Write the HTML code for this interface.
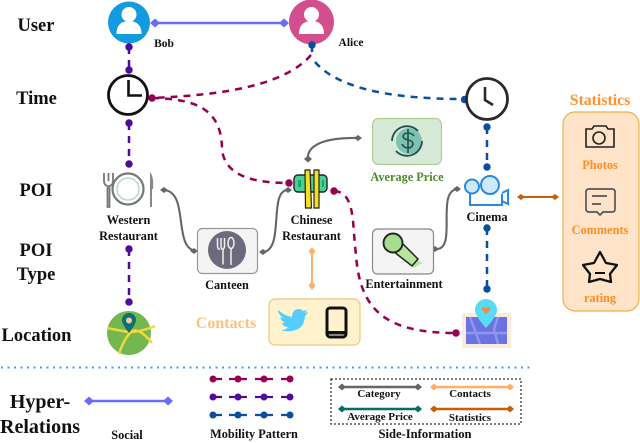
<!DOCTYPE html>
<html><head><meta charset="utf-8"><style>
html,body{margin:0;padding:0;background:#fff;width:640px;height:443px;overflow:hidden}
svg{display:block}
text{font-family:"Liberation Serif",serif;font-weight:bold;text-anchor:middle;fill:#111}
.d{fill:none;stroke-width:2.500;stroke-dasharray:7 6}
.g{fill:none;stroke:#666;stroke-width:2.100}
.s{font-size:12.300px}
</style></head><body>
<svg width="640" height="443" viewBox="0 0 640 443" xmlns="http://www.w3.org/2000/svg">
<defs>
<symbol id="user" viewBox="0 0 44 44" overflow="visible"><circle cx="22" cy="14.500" r="7.500" fill="#fff"/><path d="M9.500 34c0-9 5-13 12.500-13s12.500 4 12.500 13z" fill="#fff"/></symbol>
</defs>
<!-- row labels -->
<text x="36" y="31" style="font-size:18.500px">User</text>
<text x="36.500" y="104" style="font-size:18.500px">Time</text>
<text x="36" y="196" style="font-size:18.500px">POI</text>
<text x="36" y="256" style="font-size:18.500px">POI</text>
<text x="36" y="280" style="font-size:18.500px">Type</text>
<text x="36.500" y="341" style="font-size:18.500px">Location</text>
<text x="40" y="408" style="font-size:20px">Hyper-</text>
<text x="40" y="433" style="font-size:20px">Relations</text>
<!-- Social -->
<line x1="155" y1="23" x2="284" y2="23" stroke="#6a6cff" stroke-width="2.500"/>
<path d="M150 23l5-4.500 5 4.500-5 4.500zM279 23l5-4.500 5 4.500-5 4.500z" fill="#6a6cff"/>
<circle cx="129" cy="22.500" r="21" fill="#129bdf"/>
<use href="#user" x="107" y="0" width="44" height="44"/>
<circle cx="311.500" cy="22" r="22.500" fill="#d44d8c"/>
<use href="#user" x="289.500" y="0" width="44" height="44"/>
<text x="164" y="47" class="s" style="font-size:11.500px">Bob</text>
<text x="351" y="46" class="s" style="font-size:11.500px">Alice</text>
<!-- purple -->
<path class="d" d="M129 47V70" stroke="#4f0c9c"/>
<path class="d" d="M129 123V164" stroke="#4f0c9c"/>
<path class="d" d="M129 249V302" stroke="#4f0c9c"/>
<g fill="#4f0c9c"><circle cx="129" cy="47" r="3.700"/><circle cx="129" cy="70" r="3.700"/><circle cx="129" cy="123" r="3.700"/><circle cx="129" cy="164" r="3.700"/><circle cx="129" cy="249" r="3.700"/><circle cx="129" cy="302" r="3.700"/></g>
<!-- clock 1 -->
<circle cx="128" cy="95" r="19.500" fill="#fff" stroke="#111" stroke-width="2.800"/>
<path d="M128.500 80V95.500H142" fill="none" stroke="#111" stroke-width="2.600"/>
<!-- crimson -->
<path class="d" stroke="#97004f" d="M311 55C285 85 225 95 152 98"/>
<path class="d" stroke="#97004f" d="M152 98C195 99 222 108 222 150C225 172 245 183 289 183"/>
<path class="d" stroke="#97004f" d="M334 191C356 192 352 225 356 255C360 310 385 333 456 333"/>
<g fill="#97004f"><circle cx="152" cy="98" r="3.700"/><circle cx="289" cy="183" r="3.700"/><circle cx="334" cy="191" r="3.700"/><circle cx="456" cy="333" r="3.700"/></g>
<!-- blue -->
<path class="d" stroke="#0a4f9e" d="M312 45V52"/>
<path class="d" stroke="#0a4f9e" d="M315 62C335 85 380 99 464 99"/>
<path class="d" stroke="#0a4f9e" d="M487 127V167"/>
<path class="d" stroke="#0a4f9e" d="M487 228V289"/>
<g fill="#0a4f9e"><circle cx="312" cy="45" r="3.700"/><circle cx="464.500" cy="99.500" r="3.700"/><circle cx="487" cy="127" r="3.700"/><circle cx="487" cy="167" r="3.700"/><circle cx="487" cy="228" r="3.700"/><circle cx="487" cy="289" r="3.700"/></g>
<!-- clock 2 -->
<circle cx="487" cy="99" r="20.500" fill="#fff" stroke="#2a2a2a" stroke-width="2.800"/>
<path d="M485 87V100L493 105" fill="none" stroke="#2a2a2a" stroke-width="2.600"/>
<!-- gray connectors -->
<path class="g" d="M164 190C190 192 172 250 197 251"/>
<path class="g" d="M263 252C285 250 268 190 288 190"/>
<path class="g" d="M308 160C306 145 325 137 360 138"/>
<path class="g" d="M436 249C458 250 435 190 458 189"/>
<g fill="#666"><path d="M160 190l4-3 4 3-4 3zM190 251l4-3 4 3-4 3zM259 252l4-3 4 3-4 3zM284 190l4-3 4 3-4 3zM304 159l4-3.500 4 3.500-4 3.500zM354 138l4-3 4 3-4 3zM431 249l4-3 4 3-4 3zM453 189l4-3 4 3-4 3z"/></g>
<!-- Western -->
<circle cx="128" cy="189" r="15.500" fill="#fff" stroke="#777" stroke-width="2.200"/>
<circle cx="128" cy="189" r="11" fill="none" stroke="#b5d8cc" stroke-width="1.500"/>
<path d="M104 173v8q0 4 3.500 5v21h2v-21q3.500-1 3.500-5v-8M108.500 173v8" fill="none" stroke="#777" stroke-width="1.800"/>
<path d="M150 172q4 5 3 17h-1v18h-2z" fill="#888"/>
<text x="128.500" y="224" class="s">Western</text>
<text x="128.500" y="240" class="s">Restaurant</text>
<!-- Canteen -->
<rect x="197.500" y="228.500" width="60" height="45" rx="5" fill="#f4f4f4" stroke="#999" stroke-width="1.200"/>
<circle cx="227" cy="250" r="19" fill="#6d6a7d"/>
<path d="M221 238v8q0 3 2 3.500v15M217.500 238v8q0 3 2.500 3.500M224.500 238v8q0 3-2.500 3.500" fill="none" stroke="#f0f0f0" stroke-width="1.500"/>
<ellipse cx="231" cy="243" rx="3" ry="5.500" fill="none" stroke="#f0f0f0" stroke-width="1.500"/>
<path d="M231 249v16" stroke="#f0f0f0" stroke-width="1.500"/>
<text x="227" y="289" class="s">Canteen</text>
<!-- Chopsticks -->
<rect x="294" y="175" width="33" height="17" rx="4" fill="#4fce9b" stroke="#222" stroke-width="1.400"/>
<rect x="298" y="180" width="3" height="7" fill="#1a6"/>
<rect x="322" y="180" width="2" height="7" fill="#1a6"/>
<path d="M305 170h5l1.500 38h-6zM314 170h5l0 38h-5z" fill="#f4e01c" stroke="#222" stroke-width="1.200"/>
<text x="311.500" y="224" class="s">Chinese</text>
<text x="311.500" y="240" class="s">Restaurant</text>
<!-- Orange contact -->
<path d="M312 252V285" stroke="#ffb06a" stroke-width="2"/>
<path d="M312 247l3.500 4.500-3.500 4.500-3.500-4.500zM312 281l3.500 4.500-3.500 4.500-3.500-4.500z" fill="#ffb06a"/>
<text x="226" y="328" style="font-size:16px;fill:#ffc07a">Contacts</text>
<rect x="269" y="299" width="91" height="46" rx="6" fill="#fff2cd" stroke="#e9c878" stroke-width="1.200"/>
<path d="M278 310q7 6 14 7q0-7 6-8q4 0 5 2l4-1-2 3 3-1q-2 3-3 4q-1 14-14 15q-5 1-10-1q5 0 7-3q-5 0-6-4q1 0 3 0q-4-2-5-6q1 1 3 1q-5-4-5-8z" fill="#56ccff"/>
<rect x="327" y="308" width="19" height="29" rx="3" fill="#fff2cd" stroke="#111" stroke-width="3"/>
<rect x="326" y="331" width="21" height="3.500" fill="#111"/>
<!-- Location -->
<circle cx="129" cy="333" r="22" fill="#73b84e"/>
<path d="M107 328q15 3 22 4q12 0 26-6M119 354q5-16 13-23q8-3 20 12" fill="none" stroke="#f4d640" stroke-width="2.500"/>
<path d="M129 333q-7-9-7-13a7 7 0 0 1 14 0q0 4-7 13z" fill="#0c6f73"/>
<circle cx="129" cy="320.500" r="3" fill="#f6c9a4"/>
<!-- Average Price -->
<rect x="372.500" y="118.500" width="69" height="46" rx="6" fill="#d6e8d6" stroke="#a9cf95" stroke-width="1.200"/>
<circle cx="409" cy="141" r="13" fill="#7fc2b4"/>
<path d="M392 141a15 15 0 0 1 26-10M422 141a15 15 0 0 1-26 10" fill="none" stroke="#1f4f4b" stroke-width="1.800"/>
<path d="M414 136q-2-3-6-3t-5 3q0 3 5 4t5 4q-1 4-5 4t-6-4M408 129v24" fill="none" stroke="#1f4f4b" stroke-width="1.600"/>
<text x="407" y="181" class="s" style="fill:#4f8a2c">Average Price</text>
<!-- Entertainment -->
<rect x="372.500" y="229" width="61" height="45" rx="5" fill="#f4f4f4" stroke="#888" stroke-width="1.200"/>
<path d="M408 262l6-4 8 5-8 5z" fill="#b6e59b"/>
<path d="M397 238l-8 10 23 18 6-7z" fill="#b6e59b" stroke="#222" stroke-width="1.500"/>
<circle cx="393" cy="243" r="9.500" fill="#a6dc8e" stroke="#222" stroke-width="1.900"/>
<text x="404" y="288" class="s">Entertainment</text>
<!-- Cinema -->
<path d="M470 194v11h32v-11M502 193l6-3v14l-6-3" fill="#fff" stroke="#2589e6" stroke-width="2"/>
<circle cx="472" cy="186.500" r="7" fill="#cfe9fb" stroke="#2589e6" stroke-width="2"/>
<circle cx="490" cy="185" r="9" fill="#cfe9fb" stroke="#2589e6" stroke-width="2"/>
<text x="487" y="221" class="s">Cinema</text>
<!-- POI location map -->
<rect x="462" y="313" width="49" height="35" fill="#fcebdd"/>
<rect x="466" y="317" width="41" height="27" fill="#6b73e0"/>
<path d="M470 317l10 27M466 333h41M498 317l-4 12 4 15" fill="none" stroke="#8e96ee" stroke-width="2.500"/>
<path d="M486 328q-11-12-11-18a11 11 0 0 1 22 0q0 6-11 18z" fill="#57dcf2"/>
<path d="M486 314l-4-4q-1-3 2-3l2 1 2-1q3 0 2 3z" fill="#f08a55"/>
<!-- Statistics -->
<text x="600" y="105" style="font-size:15.800px;fill:#ff9233">Statistics</text>
<rect x="563" y="112" width="76" height="199" rx="12" fill="#ffe4c9" stroke="#e8b24c" stroke-width="1.200"/>
<path d="M520 197H556" stroke="#c85f08" stroke-width="2"/>
<path d="M517 197l4-3 4 3-4 3zM551 197l4-3 4 3-4 3z" fill="#c85f08"/>
<path d="M586 129h6l2-3h12l2 3h6v18h-28z" fill="none" stroke="#222" stroke-width="1.600"/>
<circle cx="599" cy="138" r="6" fill="none" stroke="#222" stroke-width="1.600"/>
<text x="600" y="169" class="s" style="fill:#ff8c22">Photos</text>
<path d="M589 189h23q3 0 3 3v17q0 3-3 3h-9l-3 3-3-3h-8q-3 0-3-3v-17q0-3 3-3z" fill="none" stroke="#555" stroke-width="1.700"/>
<path d="M592 196h15M592 204h9" stroke="#555" stroke-width="1.700"/>
<text x="600" y="234" class="s" style="fill:#ff8c22">Comments</text>
<path d="M600 252l6 11 11 2-7 9 1 8-11-3-11 3 1-8-7-9 11-2z" fill="none" stroke="#111" stroke-width="2.300" stroke-linejoin="round"/>
<path d="M595 273h10" stroke="#111" stroke-width="2"/>
<text x="600" y="302" class="s" style="fill:#ff8c22">rating</text>
<!-- separator -->
<line x1="1" y1="367.500" x2="533" y2="367.500" stroke="#3aa0f5" stroke-width="2" stroke-dasharray="2 4.500"/>
<!-- legend social -->
<line x1="89" y1="401" x2="168" y2="401" stroke="#6a6cff" stroke-width="2.500"/>
<path d="M84 401l5-4.500 5 4.500-5 4.500zM163 401l5-4.500 5 4.500-5 4.500z" fill="#6a6cff"/>
<text x="127" y="439" class="s">Social</text>
<!-- mobility -->
<g stroke-width="2.200">
<g stroke="#97004f" fill="#97004f"><path d="M213 379h9M229 379h18M255 379h18M281 379h9"/><g stroke="none"><circle cx="213" cy="379" r="3.500"/><circle cx="238" cy="379" r="3.500"/><circle cx="264" cy="379" r="3.500"/><circle cx="290" cy="379" r="3.500"/></g></g>
<g stroke="#4f0c9c" fill="#4f0c9c"><path d="M213 397h9M229 397h18M255 397h18M281 397h9"/><g stroke="none"><circle cx="213" cy="397" r="3.500"/><circle cx="238" cy="397" r="3.500"/><circle cx="264" cy="397" r="3.500"/><circle cx="290" cy="397" r="3.500"/></g></g>
<g stroke="#0a4f9e" fill="#0a4f9e"><path d="M213 415h9M229 415h18M255 415h18M281 415h9"/><g stroke="none"><circle cx="213" cy="415" r="3.500"/><circle cx="238" cy="415" r="3.500"/><circle cx="264" cy="415" r="3.500"/><circle cx="290" cy="415" r="3.500"/></g></g>
</g>
<text x="254" y="438" class="s">Mobility Pattern</text>
<!-- side info -->
<rect x="331" y="379" width="190" height="45" fill="none" stroke="#333" stroke-width="1.300" stroke-dasharray="2 2"/>
<g stroke-width="2.500">
<path d="M340 387H420" stroke="#666"/><path d="M338 387l4-3.500 4 3.500-4 3.500zM414 387l4-3.500 4 3.500-4 3.500z" fill="#666"/>
<path d="M433 387H511" stroke="#ffb06a"/><path d="M430 387l4-3.500 4 3.500-4 3.500zM506 387l4-3.500 4 3.500-4 3.500z" fill="#ffb06a"/>
<path d="M340 409H420" stroke="#0c6a6a"/><path d="M338 409l4-3.500 4 3.500-4 3.500zM414 409l4-3.500 4 3.500-4 3.500z" fill="#0c6a6a"/>
<path d="M433 409H511" stroke="#c85f08"/><path d="M430 409l4-3.500 4 3.500-4 3.500zM506 409l4-3.500 4 3.500-4 3.500z" fill="#c85f08"/>
</g>
<text x="379" y="397" style="font-size:11px">Category</text>
<text x="470" y="397" style="font-size:11px">Contacts</text>
<text x="380" y="420" style="font-size:11px">Average Price</text>
<text x="470" y="421" style="font-size:11px">Statistics</text>
<text x="425" y="438" style="font-size:12.600px">Side-Information</text>
</svg>
</body></html>
